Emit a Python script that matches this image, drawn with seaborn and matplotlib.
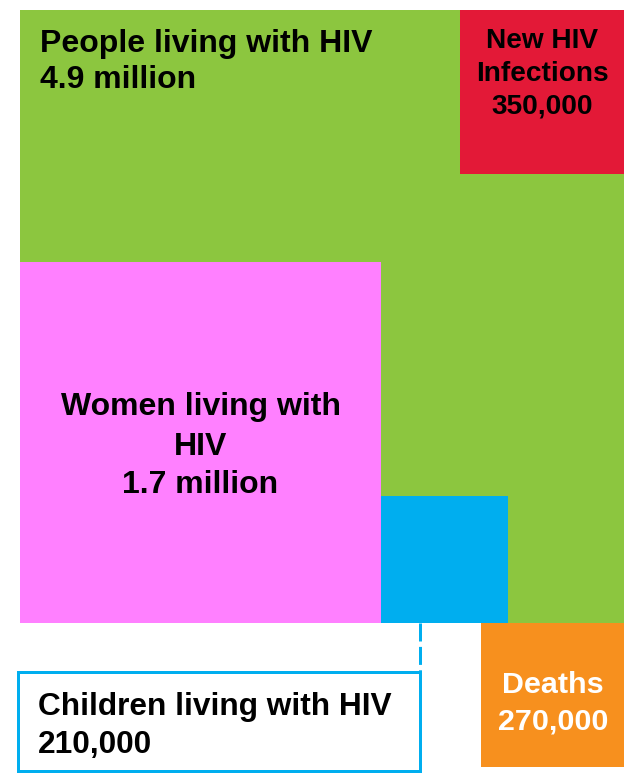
import numpy as np
import pandas as pd
import matplotlib
matplotlib.use("Agg")
import matplotlib.pyplot as plt
import seaborn as sns
from matplotlib.patches import Rectangle

# Figures shown as nested squares; square area is proportional to the count
categories = ["People living with HIV", "New HIV Infections", "Women living with HIV",
              "Children living with HIV", "Deaths"]
values = [4_900_000, 350_000, 1_700_000, 210_000, 270_000]
value_labels = ["4.9 million", "350,000", "1.7 million", "210,000", "270,000"]
title_lines = [["People living with HIV"], ["New HIV", "Infections"],
               ["Women living with", "HIV"], ["Children living with HIV"], ["Deaths"]]
colors = ["#8CC63F", "#E31937", "#FF80FF", "#00AEEF", "#F7901E"]

sns.set_theme(style="white")
plt.rcParams["font.family"] = ["Liberation Sans", "DejaVu Sans"]
plt.rcParams["font.weight"] = "bold"

W, H = 624, 773
fig = plt.figure(figsize=(W / 100, H / 100), dpi=100)
ax = fig.add_axes([0, 0, 1, 1])
ax.set_xlim(0, W)
ax.set_ylim(H, 0)
ax.axis("off")

# side of each square = scale * sqrt(value)
big_side = 613
scale = big_side / np.sqrt(values[0])
sides = [scale * np.sqrt(v) for v in values]
s_all, s_new, s_women, s_child, s_death = sides

gx, gy = 20, 10
g_bottom = gy + s_all
lefts = [gx, W - s_new, gx, gx + s_women, 481]
tops = [gy, gy, g_bottom - s_women, g_bottom - s_child, g_bottom]

squares = pd.DataFrame({"category": categories, "left": lefts, "top": tops,
                        "side": sides, "color": colors})
for row in squares.itertuples():
    ax.bar(row.left, row.side, width=row.side, bottom=row.top, align="edge",
           color=row.color, linewidth=0, zorder=2)

pt = 0.72  # pixels -> points at 100 dpi

# People living with HIV (top-left of the big square)
for txt, base in zip(title_lines[0] + [value_labels[0]], [52, 88]):
    ax.text(40, base, txt, ha="left", va="baseline", fontsize=32 * pt,
            fontweight="bold", color="black", zorder=5)

# New HIV infections
cx_new = lefts[1] + s_new / 2
for txt, base in zip(title_lines[1] + [value_labels[1]], [48, 81, 114]):
    ax.text(cx_new, base, txt, ha="center", va="baseline", fontsize=28 * pt,
            fontweight="bold", color="black", zorder=5)

# Women living with HIV
cx_w = lefts[2] + s_women / 2
cy_w = tops[2] + s_women / 2
for txt, off in zip(title_lines[2] + [value_labels[2]], [-27, 13, 51]):
    ax.text(cx_w, cy_w + off, txt, ha="center", va="baseline", fontsize=32 * pt,
            fontweight="bold", color="black", zorder=5)

# Deaths
cx_d = lefts[4] + s_death / 2
for txt, base in zip(title_lines[4] + [value_labels[4]], [693, 730]):
    ax.text(cx_d, base, txt, ha="center", va="baseline", fontsize=30.5 * pt,
            fontweight="bold", color="white", zorder=5)

# Children: callout box linked to the blue square by a dashed leader
box_left, box_top, box_right, box_bottom = 18, 672, 420, 771
ax.add_patch(Rectangle((box_left, box_top), box_right - box_left, box_bottom - box_top,
                       facecolor="white", edgecolor=colors[3], linewidth=3 * pt, zorder=3))
ax.plot([box_right, box_right], [g_bottom, box_top], color=colors[3],
        linewidth=3 * pt, dashes=(6, 1.8), solid_capstyle="butt", zorder=3)
for txt, base in zip(title_lines[3] + [value_labels[3]], [715, 753]):
    ax.text(38, base, txt, ha="left", va="baseline", fontsize=31.6 * pt,
            fontweight="bold", color="black", zorder=5)

fig.savefig("out.png", dpi=100, facecolor="white")
